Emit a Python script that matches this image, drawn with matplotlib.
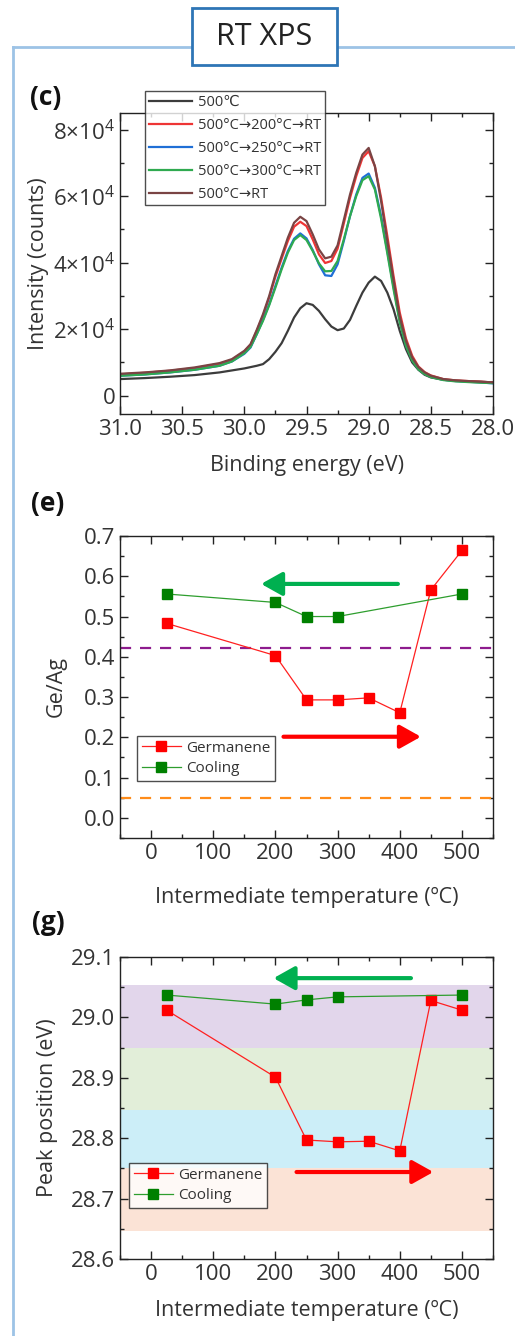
import matplotlib
matplotlib.use("Agg")
import matplotlib.pyplot as plt
from matplotlib.patches import Rectangle
from matplotlib.lines import Line2D
from matplotlib.ticker import MultipleLocator, FuncFormatter

plt.rcParams['font.family'] = ['Open Sans', 'DejaVu Sans']
plt.rcParams['mathtext.fontset'] = 'custom'
plt.rcParams['mathtext.rm'] = 'Open Sans'
plt.rcParams['mathtext.it'] = 'Open Sans'

# ---------------- data ----------------
# (c) Ge 3d spectra
energy = [31.0, 30.8, 30.6, 30.4, 30.2, 30.1, 30.0, 29.95, 29.9, 29.85, 29.8, 29.75,
          29.7, 29.65, 29.6, 29.55, 29.5, 29.45, 29.4, 29.35, 29.3, 29.25, 29.2, 29.15,
          29.1, 29.05, 29.0, 28.95, 28.9, 28.85, 28.8, 28.75, 28.7, 28.65, 28.6, 28.55,
          28.5, 28.4, 28.3, 28.2, 28.1, 28.0]
spec_500 = [5000, 5300, 5700, 6200, 7000, 7600, 8200, 8600, 9000, 9500, 11000, 13200,
            15800, 19500, 23500, 26300, 27800, 27300, 25500, 23000, 20800, 19700, 20200, 22800,
            27000, 31000, 34000, 35800, 34500, 31000, 26000, 19500, 14000, 10000, 7800, 6300,
            5500, 4800, 4500, 4300, 4200, 4000]
spec_200 = [6400, 6900, 7500, 8300, 9600, 10800, 13300, 15300, 19500, 24000, 29500, 35800,
            41200, 46500, 50800, 52300, 51000, 47000, 42500, 39900, 40500, 44200, 51800, 59500,
            66000, 71500, 73500, 69000, 59500, 48000, 36000, 25000, 17200, 12000, 8800, 7100,
            6100, 5000, 4600, 4400, 4200, 4000]
spec_250 = [6000, 6400, 7000, 7800, 9000, 10300, 12600, 14500, 18500, 22800, 27500, 33000,
            38500, 43500, 47200, 48800, 47300, 43800, 39500, 36200, 36000, 39500, 46500, 54000,
            60500, 65500, 66800, 62500, 54000, 43500, 32800, 22500, 15200, 10800, 8000, 6600,
            5700, 4800, 4400, 4200, 4000, 3700]
spec_300 = [6000, 6400, 7000, 7800, 9000, 10300, 12800, 14700, 18500, 22500, 27200, 32500,
            38000, 43000, 46800, 48300, 46800, 43500, 39800, 37400, 37500, 40500, 47000, 54000,
            60000, 64800, 66000, 62000, 53200, 42800, 32000, 22000, 15000, 10600, 7900, 6500,
            5600, 4700, 4300, 4100, 3900, 3800]
spec_rt = [6600, 7000, 7600, 8500, 9800, 11000, 13500, 15500, 19800, 24500, 30000, 36500,
           42000, 47500, 52000, 53800, 52500, 48500, 44000, 41300, 41800, 45200, 52800, 60500,
           67000, 72500, 74500, 69000, 58500, 46500, 34800, 23800, 16500, 11500, 8600, 7000,
           6000, 5000, 4600, 4400, 4200, 4000]
spec_labels = ["500℃", "500°C→200°C→RT", "500°C→250°C→RT", "500°C→300°C→RT", "500°C→RT"]

# (e) Ge/Ag ratio and (g) peak position
temp_heat = [25, 200, 250, 300, 350, 400, 450, 500]
ratio_heat = [0.483, 0.403, 0.293, 0.293, 0.298, 0.261, 0.566, 0.664]
temp_cool = [25, 200, 250, 300, 500]
ratio_cool = [0.556, 0.535, 0.500, 0.500, 0.556]
ratio_ref_high = 0.421
ratio_ref_low = 0.05

peak_heat = [29.012, 28.901, 28.797, 28.794, 28.795, 28.779, 29.028, 29.012]
peak_cool = [29.037, 29.022, 29.029, 29.034, 29.037]
peak_bands = [(28.95, 29.054), (28.847, 28.95), (28.751, 28.847), (28.647, 28.751)]

# ---------------- layout helpers ----------------
W, H = 515, 1336
fig = plt.figure(figsize=(W / 100, H / 100), dpi=100)


def fx(x):
    return x / W


def fy(y):
    return 1 - y / H


def add_axes_px(left, top, right, bottom):
    return fig.add_axes([fx(left), fy(bottom), (right - left) / W, (bottom - top) / H])


TXT = '#333333'
TICK_FS = 16
LABEL_FS = 15.5
PANEL_FS = 19


def style_axes(ax):
    for s in ax.spines.values():
        s.set_color('#222222')
        s.set_linewidth(1.0)
    ax.tick_params(which='both', direction='in', top=True, right=True,
                   colors='#222222', labelcolor=TXT, labelsize=TICK_FS)
    ax.tick_params(which='major', length=6, width=1)
    ax.tick_params(which='minor', length=3, width=1)


def style_legend(leg):
    leg.get_frame().set_edgecolor('#222222')
    leg.get_frame().set_linewidth(1.0)
    for t in leg.get_texts():
        t.set_color(TXT)


def arrow(ax, x0, x1, y, color):
    ax.annotate('', xy=(x1, y), xytext=(x0, y),
                arrowprops=dict(arrowstyle='-|>,head_length=0.75,head_width=0.42',
                                color=color, lw=3.0, shrinkA=0, shrinkB=0,
                                mutation_scale=17))


# outer frame
frame_col = '#9DC3E6'
fig.add_artist(Line2D([fx(13), fx(13)], [fy(47), fy(1336)], color=frame_col, lw=2))
fig.add_artist(Line2D([fx(13), fx(515)], [fy(47), fy(47)], color=frame_col, lw=2))
fig.add_artist(Rectangle((fx(192), fy(65)), (337 - 192) / W, (65 - 8) / H,
                         facecolor='white', edgecolor='#2E75B6', lw=2, zorder=5))
fig.text(fx(264.5), fy(37), "RT XPS", ha='center', va='center', fontsize=22,
         color='#222222', zorder=6)

# ---------------- (c) spectra ----------------
axc = add_axes_px(120, 113, 493, 414)
colors_c = ['#3C3C3C', '#EE3535', '#1F6FD6', '#2FAA50', '#7A4444']
for spec, col, lab in zip([spec_500, spec_200, spec_250, spec_300, spec_rt],
                          colors_c, spec_labels):
    axc.plot(energy, spec, color=col, lw=1.6, label=lab)
axc.set_xlim(31.0, 28.0)
axc.set_ylim(-5500, 85000)
axc.xaxis.set_major_locator(MultipleLocator(0.5))
axc.xaxis.set_minor_locator(MultipleLocator(0.25))
axc.xaxis.set_major_formatter(FuncFormatter(lambda v, p: f"{v:.1f}"))
axc.yaxis.set_major_locator(MultipleLocator(20000))
axc.yaxis.set_minor_locator(MultipleLocator(10000))
axc.yaxis.set_major_formatter(FuncFormatter(
    lambda v, p: "0" if abs(v) < 1 else r"$%d{\times}10^{4}$" % round(v / 1e4)))
style_axes(axc)
axc.set_xlabel("Binding energy (eV)", fontsize=LABEL_FS, color=TXT)
axc.set_ylabel("Intensity (counts)", fontsize=LABEL_FS, color=TXT)
axc.xaxis.set_label_coords(0.5, -0.135)
axc.yaxis.set_label_coords(-0.19, 0.5)
legc = axc.legend(loc='upper left', bbox_to_anchor=(fx(145), fy(91)),
                  bbox_transform=fig.transFigure, frameon=True, fancybox=False,
                  fontsize=10.5, handlelength=3.0, handletextpad=0.4, labelspacing=0.55,
                  borderpad=0.25, borderaxespad=0)
style_legend(legc)
fig.text(fx(46), fy(98), "(c)", ha='center', va='center', fontsize=PANEL_FS,
         fontweight='bold', color='#111111')

# ---------------- (e) Ge/Ag ----------------
axe = add_axes_px(120, 536, 493, 838)
axe.axhline(ratio_ref_high, color='#8E1C8E', lw=1.6, ls=(0, (5, 4)))
axe.axhline(ratio_ref_low, color='#FF8C1A', lw=1.6, ls=(0, (5, 4)))
axe.plot(temp_heat, ratio_heat, color='#FF2020', lw=0.9, marker='s', ms=7,
         mfc='#FF0000', mec='#FF0000', label='Germanene')
axe.plot(temp_cool, ratio_cool, color='#2E9E2E', lw=0.9, marker='s', ms=7,
         mfc='#008000', mec='#008000', label='Cooling')
arrow(axe, 397, 177, 0.581, '#00B050')
arrow(axe, 213, 434, 0.2015, '#FF0000')
axe.set_xlim(-50, 550)
axe.set_ylim(-0.05, 0.7)
axe.xaxis.set_major_locator(MultipleLocator(100))
axe.xaxis.set_minor_locator(MultipleLocator(50))
axe.yaxis.set_major_locator(MultipleLocator(0.1))
axe.yaxis.set_minor_locator(MultipleLocator(0.05))
axe.yaxis.set_major_formatter(FuncFormatter(lambda v, p: f"{v:.1f}"))
style_axes(axe)
axe.set_xlabel("Intermediate temperature (ºC)", fontsize=LABEL_FS, color=TXT)
axe.set_ylabel("Ge/Ag", fontsize=LABEL_FS, color=TXT)
axe.xaxis.set_label_coords(0.5, -0.163)
axe.yaxis.set_label_coords(-0.142, 0.5)
lege = axe.legend(loc='upper left', bbox_to_anchor=(fx(137), fy(736)),
                  bbox_transform=fig.transFigure, frameon=True, fancybox=False,
                  fontsize=11, handlelength=2.6, handletextpad=0.3, labelspacing=0.35,
                  borderpad=0.3, borderaxespad=0)
style_legend(lege)
fig.text(fx(48), fy(503), "(e)", ha='center', va='center', fontsize=PANEL_FS,
         fontweight='bold', color='#111111')

# ---------------- (g) peak position ----------------
axg = add_axes_px(120, 957, 493, 1259)
band_cols = ['#E2D6EB', '#E2EED9', '#CCEEF8', '#FBE3D6']
for (lo, hi), col in zip(peak_bands, band_cols):
    axg.axhspan(lo, hi, color=col, lw=0, zorder=0)
axg.plot(temp_heat, peak_heat, color='#FF2020', lw=0.9, marker='s', ms=7,
         mfc='#FF0000', mec='#FF0000', label='Germanene')
axg.plot(temp_cool, peak_cool, color='#2E9E2E', lw=0.9, marker='s', ms=7,
         mfc='#008000', mec='#008000', label='Cooling')
arrow(axg, 418, 197, 29.065, '#00B050')
arrow(axg, 234, 454, 28.744, '#FF0000')
axg.set_xlim(-50, 550)
axg.set_ylim(28.6, 29.1)
axg.xaxis.set_major_locator(MultipleLocator(100))
axg.xaxis.set_minor_locator(MultipleLocator(50))
axg.yaxis.set_major_locator(MultipleLocator(0.1))
axg.yaxis.set_minor_locator(MultipleLocator(0.05))
axg.yaxis.set_major_formatter(FuncFormatter(lambda v, p: f"{v:.1f}"))
style_axes(axg)
axg.set_xlabel("Intermediate temperature (ºC)", fontsize=LABEL_FS, color=TXT)
axg.set_ylabel("Peak position (eV)", fontsize=LABEL_FS, color=TXT)
axg.xaxis.set_label_coords(0.5, -0.135)
axg.yaxis.set_label_coords(-0.165, 0.5)
legg = axg.legend(loc='upper left', bbox_to_anchor=(fx(129), fy(1163)),
                  bbox_transform=fig.transFigure, frameon=True, fancybox=False,
                  fontsize=11, handlelength=2.6, handletextpad=0.3, labelspacing=0.35,
                  borderpad=0.3, borderaxespad=0)
style_legend(legg)
fig.text(fx(48), fy(923), "(g)", ha='center', va='center', fontsize=PANEL_FS,
         fontweight='bold', color='#111111')

fig.savefig("out.png", dpi=100, facecolor='white')
